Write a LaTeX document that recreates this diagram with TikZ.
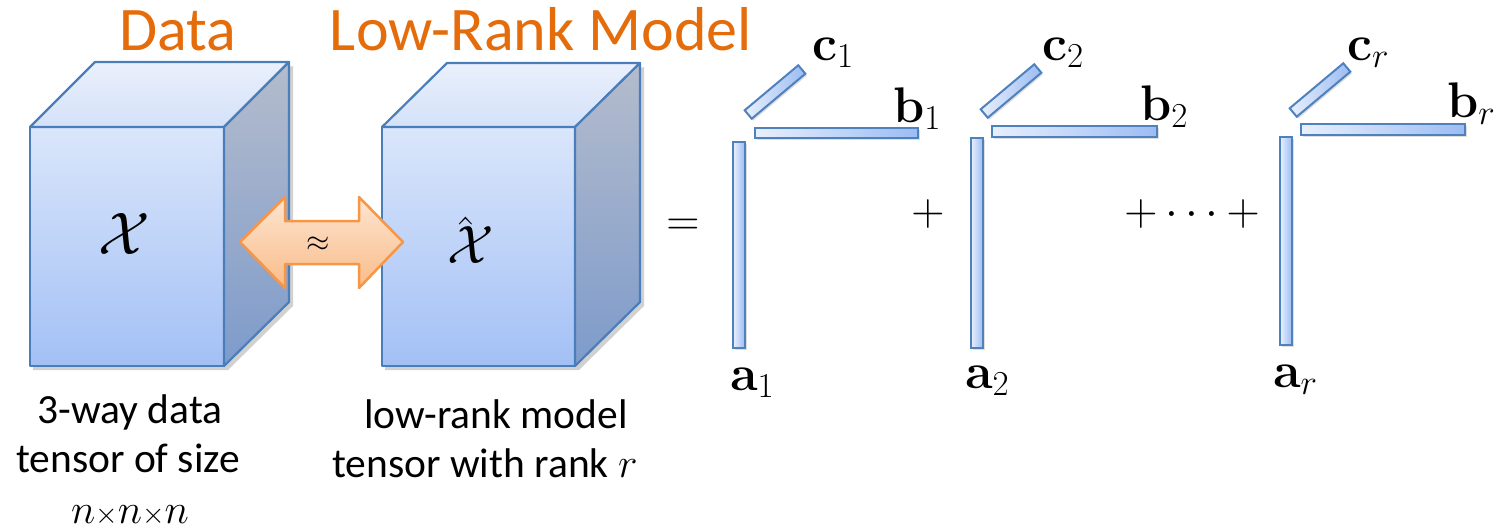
\RequirePackage{fix-cm}
\documentclass[tikz,border=0pt]{standalone}
\usepackage[no-math]{fontspec}
\setmainfont{Carlito}
\usetikzlibrary{shadows}
\definecolor{orangeT}{HTML}{E46C0A}
\definecolor{cubeline}{HTML}{4A7EBB}
\definecolor{frontT}{HTML}{DAE6FB}
\definecolor{frontB}{HTML}{A3C0F5}
\definecolor{sideT}{HTML}{B4BCCC}
\definecolor{sideB}{HTML}{7E9BCB}
\definecolor{topT}{HTML}{EAF0FC}
\definecolor{topB}{HTML}{D4E1F8}
\definecolor{arrL}{HTML}{F79646}
\definecolor{arrT}{HTML}{FDE5D0}
\definecolor{arrB}{HTML}{F9BC8A}
\definecolor{barL}{HTML}{E8EFFC}
\definecolor{barD}{HTML}{9CBCF3}
\definecolor{barline}{HTML}{4F81BD}
\begin{document}
\begin{tikzpicture}[x=1pt,y=-1pt,
  face/.style={draw=cubeline, line width=2.2pt, line join=round},
  cshadow/.style={fill=black, opacity=0.18},
  title/.style={text=orangeT, anchor=base, inner sep=0pt, font=\fontsize{62}{70}\selectfont},
  caption/.style={anchor=base, inner sep=0pt, font=\fontsize{41.5}{50}\selectfont},
  sym/.style={inner sep=0pt},
  lab/.style={anchor=base west, inner sep=0pt, font=\fontsize{50}{60}\selectfont},
  op/.style={inner sep=0pt, font=\fontsize{46}{55}\selectfont},
  bar/.style={draw=barline, line width=2pt, left color=barL, right color=barD,
    inner sep=0pt, minimum height=#1,
    drop shadow={opacity=0.25, shadow xshift=1.5pt, shadow yshift=-2pt}},
  bar/.default=11pt
]
\useasboundingbox (0,0) rectangle (1498,531);

% ---------- titles ----------
\node[title] (tdata) at (178,50) {Data};
\node[title] (tmodel) at (541,50) {Low-Rank Model};

% ---------- cube 1 ----------
\fill[cshadow] (33,131) -- (293,66) -- (293,306) -- (228,370) -- (33,370) -- cycle;
\path[face, top color=frontT, bottom color=frontB] (30,127) rectangle (224,366);
\path[face, top color=topT, bottom color=topB] (30,127) -- (95,62) -- (289,62) -- (224,127) -- cycle;
\path[face, top color=sideT, bottom color=sideB] (224,127) -- (289,62) -- (289,302) -- (224,366) -- cycle;
\node[sym, font=\fontsize{60}{70}\selectfont] (X) at (124,234) {$\mathcal{X}$};

% ---------- cube 2 ----------
\fill[cshadow] (385,131) -- (644,67) -- (644,306) -- (579,370) -- (385,370) -- cycle;
\path[face, top color=frontT, bottom color=frontB] (382,127) rectangle (575,366);
\path[face, top color=topT, bottom color=topB] (382,127) -- (447,63) -- (640,63) -- (575,127) -- cycle;
\path[face, top color=sideT, bottom color=sideB] (575,127) -- (640,63) -- (640,302) -- (575,366) -- cycle;
\node[sym, font=\fontsize{54}{62}\selectfont] (Xh) at (470,240)
  {\rlap{$\mathcal{X}$}\kern0.04em\raisebox{0.16em}{$\hat{\phantom{n}}$}\kern0.2em};

% ---------- double arrow ----------
\path[draw=arrL, line width=2.5pt, line join=round, top color=arrT, bottom color=arrB]
  (240,242) -- (285,197) -- (285,221) -- (359,221) -- (359,197) -- (403,242)
  -- (359,288) -- (359,264) -- (285,264) -- (285,288) -- cycle;
\node[sym, font=\fontsize{30}{34}\selectfont] (approx) at (318,244) {$\approx$};

% ---------- captions ----------
\node[caption] (c1a) at (130,423) {3-way data};
\node[caption] (c1b) at (128,472) {tensor of size};
\node[caption] (c1c) at (130,523) {$n{\scriptstyle\times}n{\scriptstyle\times}n$};
\node[caption] (c2a) at (496,428) {low-rank model};
\node[caption] (c2b) at (485,477) {tensor with rank $r$};

% ---------- equals and plus ----------
\node[op] (eq) at (683,227) {$=$};
\node[op] (p1) at (928,214) {$+$};
\node[op] (p2) at (1192,214) {$+\cdots+$};

% ---------- rank-one term 1 ----------
\node[bar=12pt, minimum width=206pt, rotate=-90] (a1) at (739,245) {};
\node[bar=10pt, minimum width=163pt] (b1) at (836.5,132.5) {};
\node[bar=11pt, minimum width=70pt, rotate=40] (c1) at (775,92) {};
\node[lab] (la1) at (730,390) {$\mathbf{a}_1$};
\node[lab] (lb1) at (893,122) {$\mathbf{b}_1$};
\node[lab] (lc1) at (812,60) {$\mathbf{c}_1$};

% ---------- rank-one term 2 ----------
\node[bar=12pt, minimum width=210pt, rotate=-90] (a2) at (977,243) {};
\node[bar=11pt, minimum width=165pt] (b2) at (1074.5,131) {};
\node[bar=11pt, minimum width=70pt, rotate=40] (c2) at (1011,91) {};
\node[lab] (la2) at (965,388) {$\mathbf{a}_2$};
\node[lab] (lb2) at (1140,120) {$\mathbf{b}_2$};
\node[lab] (lc2) at (1042,60) {$\mathbf{c}_2$};

% ---------- rank-one term r ----------
\node[bar=12pt, minimum width=208pt, rotate=-90] (ar) at (1286,241) {};
\node[bar=11pt, minimum width=164pt] (br) at (1383,129.5) {};
\node[bar=11pt, minimum width=70pt, rotate=40] (cr) at (1320,90) {};
\node[lab] (lar) at (1273,387) {$\mathbf{a}_r$};
\node[lab] (lbr) at (1447,117) {$\mathbf{b}_r$};
\node[lab] (lcr) at (1347,60) {$\mathbf{c}_r$};
\end{tikzpicture}
\end{document}
